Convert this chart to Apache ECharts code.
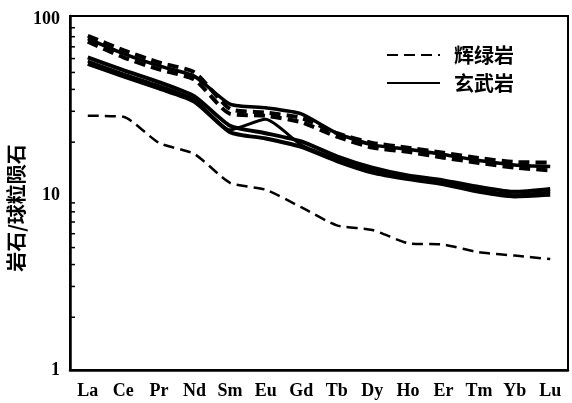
<!DOCTYPE html>
<html>
<head>
<meta charset="utf-8">
<script src="https://cdn.jsdelivr.net/npm/echarts@6/dist/echarts.min.js"></script>
<style>html,body{margin:0;padding:0;background:#fff;}#c{width:572px;height:403px;}</style>
</head>
<body>
<div id="c"></div>
<script>
// REE categories
var categories = ['La','Ce','Pr','Nd','Sm','Eu','Gd','Tb','Dy','Ho','Er','Tm','Yb','Lu'];
// 辉绿岩 (dashed) samples
var diabase1 = [81, 67, 57, 50, 31, 29.5, 27.5, 22.5, 19.8, 18.6, 17.4, 16.2, 15.4, 15.3];
var diabase2 = [75, 61, 52, 45.5, 29, 28.3, 26, 21.5, 18.6, 17.6, 16.3, 15.2, 14.3, 13.8];
var diabase3 = [28.3, 27.9, 19.8, 17.1, 11.7, 10.7, 8.5, 6.7, 6.3, 5.3, 5.2, 4.7, 4.5, 4.3];
// 玄武岩 (solid) samples
var basalt1 = [78, 64, 54.5, 47.5, 33, 31.4, 29, 22.5, 19.3, 18.2, 17, 15.7, 14.8, 14.5];
var basalt2 = [61, 51.5, 44, 36.5, 24.8, 22.5, 20.2, 16.6, 14.3, 12.9, 12.1, 11.1, 10.4, 10.8];
var basalt3 = [56, 47.5, 40.5, 34, 22.8, 21, 18.8, 15.6, 13.4, 12.3, 11.5, 10.4, 9.8, 10.0];
var basalt4 = [58, 49, 42, 35, 23.5, 27, 19.3, 16, 13.8, 12.5, 11.8, 10.7, 10.0, 10.4];
// y axis
var yMin = 1, yMax = 105;
var majorTicks = [1, 10, 100];
var minorTicks = [2,3,4,5,6,7,8,9,20,30,40,50,60,70,80,90];
var legendNames = ['辉绿岩', '玄武岩'];
var yAxisTitle = '岩石/球粒陨石';

var chart = echarts.init(document.getElementById('c'), null, {renderer: 'canvas'});
var serif = 'Liberation Serif';
var cjk = 'Noto Sans CJK SC';

function dashed(name, data, w) {
  return {type: 'line', name: name, data: data, symbol: 'none', smooth: 0.2,
    itemStyle: {color: '#000'},
    lineStyle: {color: '#000', width: w, type: [11, 6]}, z: 3};
}
function solid(name, data, w) {
  return {type: 'line', name: name, data: data, symbol: 'none', smooth: 0.2,
    itemStyle: {color: '#000'},
    lineStyle: {color: '#000', width: w, type: 'solid'}, z: 3};
}

var option = {
  animation: false,
  backgroundColor: '#fff',
  grid: {left: 70, right: 4, top: 16, bottom: 33, show: true, borderColor: '#000', borderWidth: 2, backgroundColor: 'transparent'},
  legend: {
    data: legendNames, orient: 'vertical', left: 381, top: 40,
    itemWidth: 53, itemHeight: 14, itemGap: 8,
    lineStyle: {width: 2},
    itemStyle: {opacity: 0},
    textStyle: {fontSize: 20, fontWeight: 'bold', fontFamily: cjk, color: '#000', padding: [0, 0, 0, 9]}
  },
  xAxis: {
    type: 'category', data: categories, boundaryGap: true,
    axisLine: {lineStyle: {color: '#000', width: 2.5}},
    axisTick: {inside: true, alignWithLabel: true, length: 4, lineStyle: {color: '#000', width: 1.5}},
    axisLabel: {color: '#000', fontFamily: serif, fontWeight: 'bold', fontSize: 18, margin: 12},
    splitLine: {show: false}
  },
  yAxis: {
    type: 'log', logBase: 10, min: yMin, max: yMax,
    axisLine: {show: true, lineStyle: {color: '#000', width: 2.5}},
    axisTick: {inside: true, length: 8, lineStyle: {color: '#000', width: 2}},
    axisLabel: {color: '#000', fontFamily: serif, fontWeight: 'bold', fontSize: 18, margin: 10,
      formatter: function (v) { return majorTicks.indexOf(Math.round(v)) >= 0 && Math.abs(v - Math.round(v)) < 1e-6 ? String(Math.round(v)) : ''; }},
    splitLine: {show: false}
  },
  graphic: [{
    type: 'text', x: 16, y: 208, rotation: Math.PI / 2,
    style: {text: yAxisTitle, fontSize: 20, fontWeight: 'bold', fontFamily: cjk, fill: '#000', align: 'center', verticalAlign: 'middle'}
  }],
  series: [
    dashed(legendNames[0], diabase1, 4),
    solid(legendNames[1], basalt1, 3.5),
    dashed(legendNames[0], diabase2, 4),
    dashed(legendNames[0], diabase3, 2.5),
    solid(legendNames[1], basalt2, 4),
    solid(legendNames[1], basalt3, 4),
    solid(legendNames[1], basalt4, 3),
    {
      type: 'custom', name: 'minor', coordinateSystem: 'cartesian2d', silent: true, z: 10,
      data: minorTicks.map(function (v) { return [0, v]; }),
      encode: {x: 0, y: 1},
      renderItem: function (params, api) {
        var p = api.coord([0, api.value(1)]);
        var x0 = params.coordSys.x;
        return {type: 'line', shape: {x1: x0, y1: p[1], x2: x0 + 5, y2: p[1]}, style: {stroke: '#000', lineWidth: 1.5}};
      }
    }
  ]
};
chart.setOption(option);
</script>
</body>
</html>
